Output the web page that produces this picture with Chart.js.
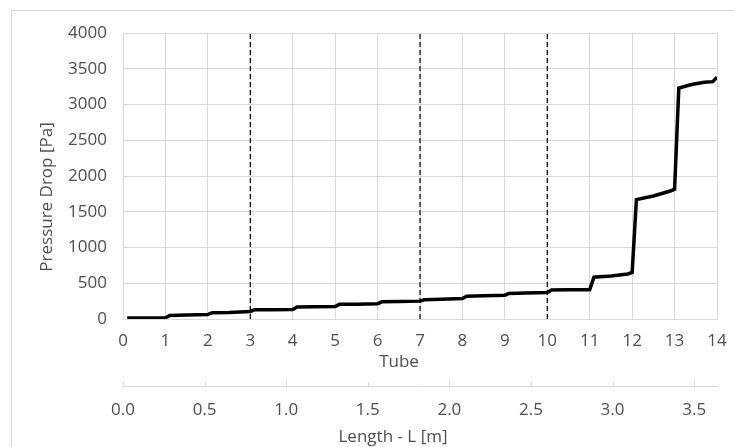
<!DOCTYPE html>
<html>
<head>
<meta charset="utf-8">
<script src="https://cdn.jsdelivr.net/npm/chart.js@4/dist/chart.umd.min.js"></script>
<style>
  html, body { margin: 0; padding: 0; background: #fff; overflow: hidden; }
  #wrap { position: relative; width: 734px; height: 447px; }
  #frame { position: absolute; left: 11px; top: 10px; width: 800px; height: 500px; border: 1px solid #d9d9d9; box-sizing: border-box; }
  #pressureChart { position: absolute; left: 0; top: 0; }
</style>
</head>
<body>
<div id="wrap">
  <div id="frame"></div>
  <canvas id="pressureChart" width="734" height="447"></canvas>
</div>
<script>
// position along the exchanger in tube numbers, and the accumulated drop
const tubePos = [0.1, 1.0, 1.1, 1.5, 2.0, 2.1, 2.5, 3.0, 3.1, 3.5, 4.0, 4.1, 4.5, 5.0, 5.1, 5.5, 6.0, 6.1, 6.5, 7.0,
                 7.1, 7.5, 8.0, 8.1, 8.5, 9.0, 9.1, 9.5, 10.0, 10.1, 10.5, 11.0, 11.1, 11.5, 11.9, 12.0, 12.1, 12.5, 12.9, 13.0,
                 13.1, 13.4, 13.7, 13.9, 14.0];
const pressureDrop = [15, 18, 48, 55, 62, 88, 92, 105, 128, 130, 132, 168, 170, 175, 205, 208, 212, 240, 245, 250,
                      268, 275, 285, 318, 325, 333, 358, 365, 370, 405, 408, 410, 585, 600, 630, 650, 1670, 1720, 1790, 1815,
                      3230, 3280, 3310, 3320, 3380];
// tube numbers where the passes change
const passBreaks = [3, 7, 10];
const tubeLength = 0.26; // m per tube
const tubeCount = 14;

const tickColor = '#4f4f4f';
const gridColor = '#d9d9d9';
const fontFamily = "'Open Sans', 'Liberation Sans', sans-serif";
const fontSize = 17;

const mainData = tubePos.map((t, i) => ({ x: t, y: pressureDrop[i] }));

const breakSets = passBreaks.map(t => ({
    data: [{ x: t, y: 0 }, { x: t, y: 4000 }],
    borderColor: '#000',
    borderWidth: 1.2,
    borderDash: [5, 3],
    pointRadius: 0,
    xAxisID: 'x',
    yAxisID: 'y'
}));

// axis titles and the small upward ticks on the length axis
const axisDecor = {
    id: 'axisDecor',
    afterDraw(chart) {
        const ctx = chart.ctx;
        const x2 = chart.scales.x2;
        ctx.save();
        ctx.strokeStyle = gridColor;
        ctx.lineWidth = 1;
        x2.ticks.forEach(t => {
            const px = Math.round(x2.getPixelForValue(t.value)) + 0.5;
            ctx.beginPath();
            ctx.moveTo(px, x2.top);
            ctx.lineTo(px, x2.top - 4);
            ctx.stroke();
        });
        ctx.fillStyle = tickColor;
        ctx.font = fontSize + 'px ' + fontFamily;
        ctx.textAlign = 'center';
        ctx.textBaseline = 'middle';
        ctx.fillText('Tube', 399, 362);
        ctx.fillText('Length - L [m]', 393, 437);
        ctx.translate(47, 197);
        ctx.rotate(-Math.PI / 2);
        ctx.fillText('Pressure Drop [Pa]', 0, 0);
        ctx.restore();
    }
};

const tickFont = { family: fontFamily, size: fontSize };

const ctx = document.getElementById('pressureChart').getContext('2d');
const pressureChart = new Chart(ctx, {
    type: 'line',
    data: {
        datasets: [
            {
                data: mainData,
                borderColor: '#000',
                borderWidth: 3.5,
                pointRadius: 0,
                tension: 0,
                xAxisID: 'x',
                yAxisID: 'y'
            },
            ...breakSets
        ]
    },
    options: {
        responsive: false,
        animation: false,
        layout: { padding: { top: 33, left: 0, right: 17, bottom: 0 } },
        plugins: { legend: { display: false }, tooltip: { enabled: false } },
        scales: {
            x: {
                type: 'linear',
                position: 'bottom',
                min: 0,
                max: tubeCount,
                afterFit: s => { s.height = 67; s.paddingLeft = 0; s.paddingRight = 0; },
                grid: { color: gridColor, drawTicks: false },
                border: { color: gridColor },
                ticks: { stepSize: 1, padding: 12, color: tickColor, font: tickFont }
            },
            x2: {
                type: 'linear',
                position: 'bottom',
                min: 0,
                max: tubeCount * tubeLength,
                afterFit: s => { s.height = 61; s.paddingLeft = 0; s.paddingRight = 0; },
                grid: { drawOnChartArea: false, drawTicks: false },
                border: { color: gridColor },
                ticks: {
                    stepSize: 0.5,
                    includeBounds: false,
                    padding: 14,
                    color: tickColor,
                    font: tickFont,
                    callback: v => v.toFixed(1)
                }
            },
            y: {
                min: 0,
                max: 4000,
                afterFit: s => { s.width = 123; s.paddingTop = 0; s.paddingBottom = 0; },
                grid: { color: gridColor, drawTicks: false },
                border: { color: gridColor },
                ticks: { stepSize: 500, padding: 16, color: tickColor, font: tickFont, callback: v => String(v) }
            }
        }
    },
    plugins: [axisDecor]
});
</script>
</body>
</html>
